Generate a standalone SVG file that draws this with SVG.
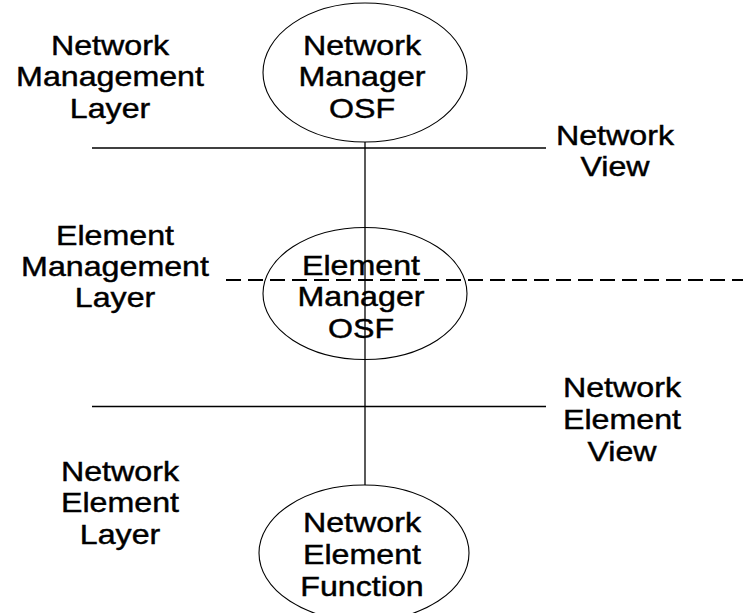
<svg xmlns="http://www.w3.org/2000/svg" width="743" height="613" viewBox="0 0 743 613">
<style>
text{font-family:"Liberation Sans",Arial,sans-serif;font-size:28.5px;fill:#000;stroke:#000;stroke-width:0.45;text-anchor:middle}
.el{fill:none;stroke:#000;stroke-width:1.1}
.ln{stroke:#000;stroke-width:1.3;fill:none}
.dash{stroke:#000;stroke-width:1.8;stroke-dasharray:15 7;fill:none}
</style>
<rect width="743" height="613" fill="#fff"/>
<g id="connectors">
<line class="ln" x1="92" y1="148" x2="546" y2="148"/>
<line class="ln" x1="92" y1="406.5" x2="546" y2="406.5"/>
<line class="dash" x1="226" y1="280" x2="743" y2="280"/>
<line class="ln" x1="365" y1="142" x2="365" y2="485"/>
</g>
<g id="nm-layer"><text transform="translate(110,55) scale(1.13,1)"><tspan x="0" y="0">Network</tspan><tspan x="0" y="31.5">Management</tspan><tspan x="0" y="63">Layer</tspan></text></g>
<g id="em-layer"><text transform="translate(115,245) scale(1.13,1)"><tspan x="0" y="0">Element</tspan><tspan x="0" y="31">Management</tspan><tspan x="0" y="62">Layer</tspan></text></g>
<g id="ne-layer"><text transform="translate(120,481) scale(1.13,1)"><tspan x="0" y="0">Network</tspan><tspan x="0" y="31.5">Element</tspan><tspan x="0" y="63">Layer</tspan></text></g>
<g id="network-view"><text transform="translate(615,145) scale(1.13,1)"><tspan x="0" y="0">Network</tspan><tspan x="0" y="31">View</tspan></text></g>
<g id="ne-view"><text transform="translate(622,397) scale(1.13,1)"><tspan x="0" y="0">Network</tspan><tspan x="0" y="32">Element</tspan><tspan x="0" y="64">View</tspan></text></g>
<g id="network-manager">
<ellipse class="el" cx="365" cy="72.5" rx="102" ry="69.5"/>
<text transform="translate(362,55) scale(1.13,1)"><tspan x="0" y="0">Network</tspan><tspan x="0" y="31.5">Manager</tspan><tspan x="0" y="63">OSF</tspan></text>
</g>
<g id="element-manager">
<ellipse class="el" cx="365" cy="293.5" rx="102" ry="66"/>
<text transform="translate(361,275) scale(1.13,1)"><tspan x="0" y="0">Element</tspan><tspan x="0" y="31.5">Manager</tspan><tspan x="0" y="63">OSF</tspan></text>
</g>
<g id="ne-function">
<ellipse class="el" cx="364" cy="553" rx="105" ry="68"/>
<text transform="translate(362,532) scale(1.13,1)"><tspan x="0" y="0">Network</tspan><tspan x="0" y="32">Element</tspan><tspan x="0" y="64">Function</tspan></text>
</g>
</svg>
